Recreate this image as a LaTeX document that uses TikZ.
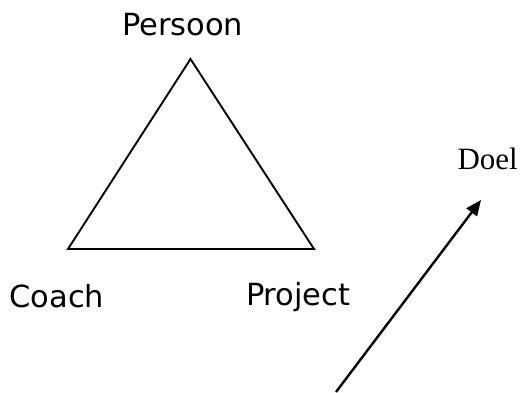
\documentclass[tikz,border=0pt]{standalone}
\usepackage{fontspec}
\setmainfont{Liberation Serif}
\newfontfamily\labelfont{DejaVu Sans}
\usetikzlibrary{arrows.meta}
\begin{document}
\begin{tikzpicture}[x=1pt,y=-1pt,
  edge/.style={line width=1.9pt,line join=miter},
  sanslabel/.style={font=\labelfont\fontsize{30.5}{36}\selectfont,inner sep=0pt,outer sep=0pt,anchor=base west},
  seriflabel/.style={font=\fontsize{31}{36}\selectfont,inner sep=0pt,outer sep=0pt,anchor=base west},
  goal/.style={line width=2.4pt,-{Triangle[length=15.5pt,width=13pt]}}]
\useasboundingbox (0,0) rectangle (522,392);
\coordinate (top) at (190.5,59);
\coordinate (left) at (68,249);
\coordinate (right) at (314,249);
\draw[edge] (top) -- (left) -- (right) -- cycle;
\node[sanslabel] (persoon) at (122,35) {Persoon};
\node[sanslabel] (coach) at (9.5,307) {Coach};
\node[sanslabel] (project) at (246,305) {Project};
\node[seriflabel] (doel) at (457.5,169) {Doel};
\coordinate (tail) at (336,392);
\coordinate (tip) at (481,200);
\draw[goal] (tail) -- (tip);
\end{tikzpicture}
\end{document}
